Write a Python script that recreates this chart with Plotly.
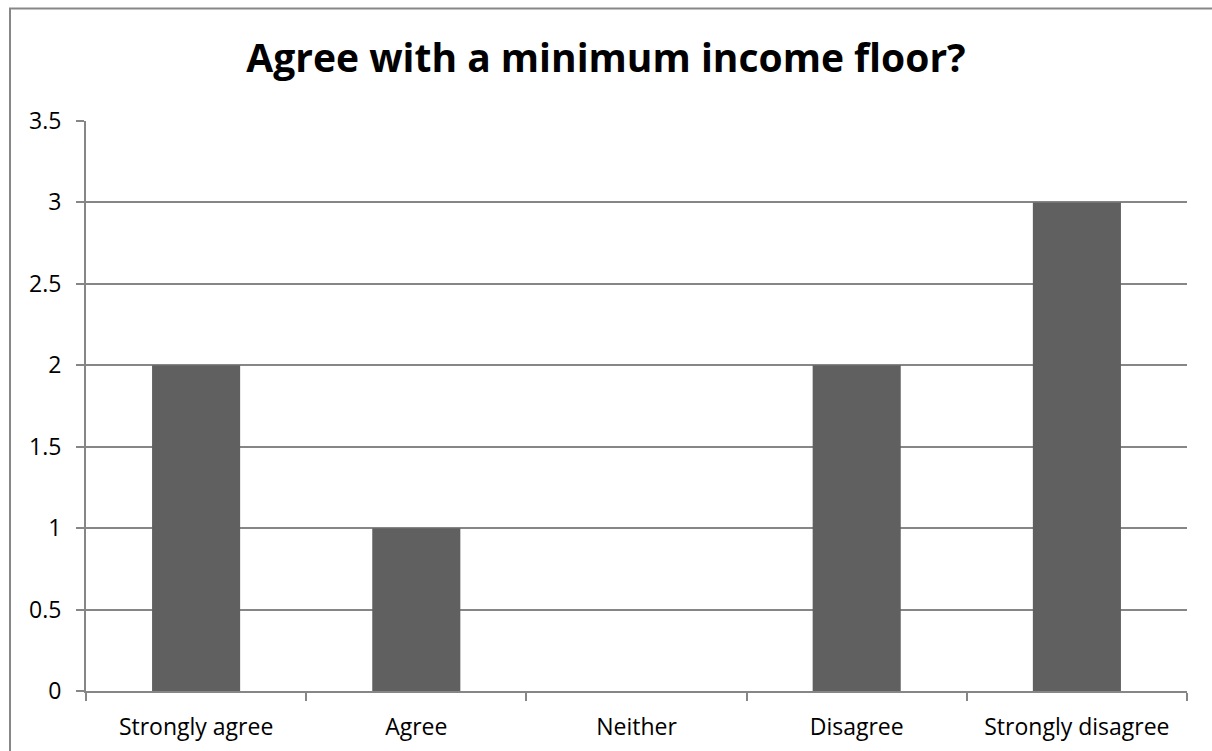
import plotly.graph_objects as go

categories = ["Strongly agree", "Agree", "Neither", "Disagree", "Strongly disagree"]
values = [2, 1, 0, 2, 3]
title_text = "Agree with a minimum income floor?"

W, H = 1212, 751
L, R, T, B = 86, 25, 121, 60
pw, ph = W - L - R, H - T - B

fig = go.Figure(go.Bar(x=categories, y=values, marker=dict(color="#606060", line=dict(width=0)), width=0.4))

grid = "#868686"
fig.update_layout(
    width=W, height=H,
    margin=dict(l=L, r=R, t=T, b=B),
    paper_bgcolor="white", plot_bgcolor="white",
    font=dict(family="Open Sans", size=23, color="#000000"),
    title=dict(text="<b>" + title_text + "</b>", x=0.5, xref="container", xanchor="center",
               y=1 - 58 / H, yanchor="middle", yref="container",
               font=dict(family="Open Sans", size=39, color="#000000")),
    showlegend=False,
    xaxis=dict(type="category", tickson="boundaries", ticks="outside", ticklen=8, tickwidth=2,
               tickcolor=grid, showline=True, linecolor=grid, linewidth=2, showgrid=False,
               tickfont=dict(size=23), ticklabelstandoff=14, automargin=False),
    yaxis=dict(range=[0, 3.5], dtick=0.5, tick0=0, ticks="outside", ticklen=8, tickwidth=2,
               tickcolor=grid, showline=True, linecolor=grid, linewidth=2, showgrid=True,
               gridcolor=grid, gridwidth=2, zeroline=False, tickfont=dict(size=23),
               ticklabelstandoff=10, automargin=False),
    shapes=[dict(type="rect", xref="paper", yref="paper",
                 x0=(10 - L) / pw, x1=(W + 20 - L) / pw,
                 y0=-(B + 20) / ph, y1=1 + (T - 8.5) / ph,
                 line=dict(color="#878787", width=2), layer="below")],
)

fig.write_html("out.html")
